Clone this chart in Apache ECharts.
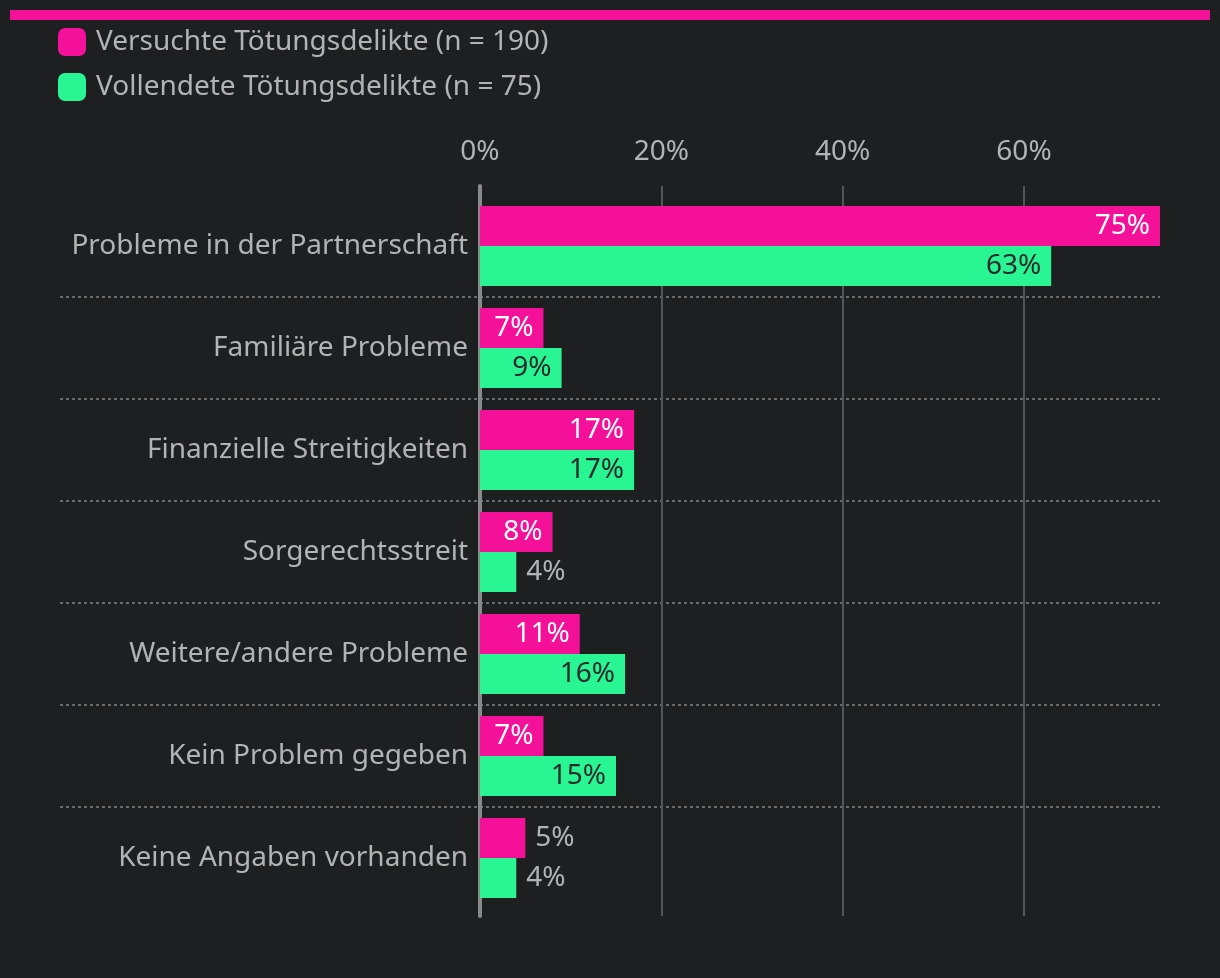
<!DOCTYPE html>
<html><head><meta charset="utf-8">
<script src="https://cdn.jsdelivr.net/npm/echarts@6/dist/echarts.min.js"></script>
<style>html,body{margin:0;padding:0;background:#1e1f21;}#c{width:1220px;height:978px;}</style>
</head><body><div id="c"></div>
<script>
const categories = ["Probleme in der Partnerschaft","Familiäre Probleme","Finanzielle Streitigkeiten","Sorgerechtsstreit","Weitere/andere Probleme","Kein Problem gegeben","Keine Angaben vorhanden"];
const seriesNames = ["Versuchte Tötungsdelikte (n = 190)","Vollendete Tötungsdelikte (n = 75)"];
const versucht = [75, 7, 17, 8, 11, 7, 5];
const vollendet = [63, 9, 17, 4, 16, 15, 4];
const xTicks = [0, 20, 40, 60];

const PINK = '#f5109a', GREEN = '#2af593', TXT = '#b3b3b3', BG = '#1e1f21';
const FONT = 'Noto Sans';
const FS = 28;

function mk(vals, insideColor) {
  return vals.map(v => ({
    value: v,
    label: v >= 6
      ? { position: 'insideRight', color: insideColor, distance: 10 }
      : { position: 'right', color: TXT, distance: 10 }
  }));
}

const chart = echarts.init(document.getElementById('c'));
chart.setOption({
  backgroundColor: BG,
  textStyle: { fontFamily: FONT },
  graphic: [{ type: 'rect', left: 10, top: 10, shape: { width: 1200, height: 10 }, style: { fill: PINK } }],
  legend: {
    orient: 'vertical', left: 53, top: 23, itemWidth: 28, itemHeight: 28, itemGap: 17,
    icon: 'roundRect',
    textStyle: { color: TXT, fontSize: FS, fontFamily: FONT, padding: [0, 0, 0, 5] },
    data: seriesNames
  },
  grid: [
    { left: 480, right: 60, top: 195, bottom: 69 },
    { left: 480, right: 60, top: 186, bottom: 62 },
    { left: 60, right: 60, top: 297, bottom: 171 }
  ],
  xAxis: [
    { gridIndex: 0, type: 'value', min: 0, max: 75, show: false },
    { gridIndex: 1, type: 'value', min: 0, max: 75, interval: 20, position: 'top',
      axisLine: { show: false }, axisTick: { show: false },
      axisLabel: { color: TXT, fontSize: FS, fontFamily: FONT, margin: 20, showMaxLabel: false,
        formatter: v => xTicks.includes(v) ? v + '%' : '' },
      splitLine: { show: true, showMinLine: false, showMaxLine: false, lineStyle: { color: '#555', width: 2 } } },
    { gridIndex: 2, type: 'value', min: 0, max: 1, show: false }
  ],
  yAxis: [
    { gridIndex: 0, type: 'category', inverse: true, data: categories,
      axisLine: { show: false }, axisTick: { show: false },
      axisLabel: { color: TXT, fontSize: FS, fontFamily: FONT, margin: 12 } },
    { gridIndex: 1, type: 'value', offset: 2,
      axisLine: { show: true, lineStyle: { color: '#8a8a8a', width: 4 } },
      axisTick: { show: false }, axisLabel: { show: false }, splitLine: { show: false } },
    { gridIndex: 2, type: 'category', boundaryGap: false, data: categories.slice(1),
      axisLine: { show: false }, axisTick: { show: false }, axisLabel: { show: false },
      splitLine: { show: true, lineStyle: { color: '#6a6a6a', width: 2, type: [3, 3] } } }
  ],
  series: [
    { name: seriesNames[0], type: 'bar', xAxisIndex: 0, yAxisIndex: 0, barWidth: 40, barGap: '0%',
      itemStyle: { color: PINK },
      label: { show: true, formatter: '{c}%', fontSize: FS, fontFamily: FONT },
      data: mk(versucht, '#ffffff') },
    { name: seriesNames[1], type: 'bar', xAxisIndex: 0, yAxisIndex: 0, barWidth: 40, barGap: '0%',
      itemStyle: { color: GREEN },
      label: { show: true, formatter: '{c}%', fontSize: FS, fontFamily: FONT },
      data: mk(vollendet, '#2a2b2d') }
  ]
});
</script></body></html>
